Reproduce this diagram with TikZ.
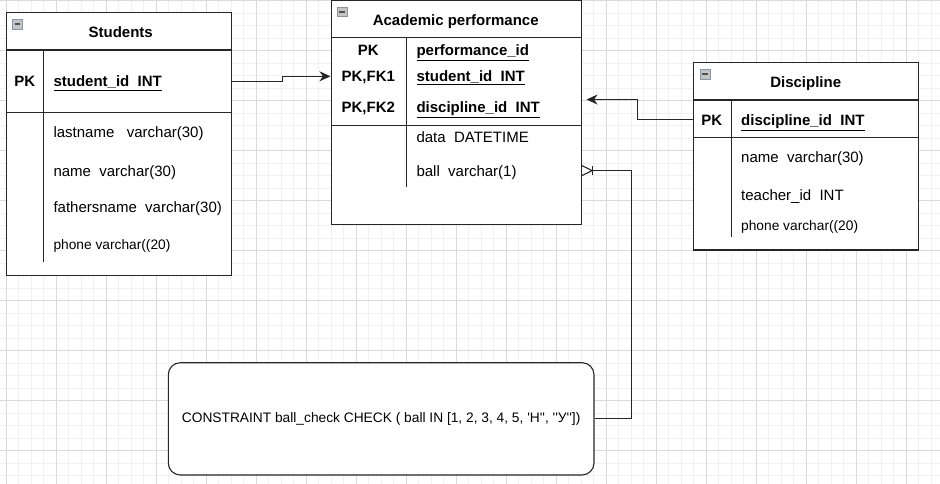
\documentclass[tikz,border=0pt]{standalone}
\usepackage{fontspec}
\setmainfont{Liberation Sans}
\usetikzlibrary{arrows.meta}
\definecolor{gridminor}{HTML}{F1F1F1}
\definecolor{gridmajor}{HTML}{DADADA}
\definecolor{iconfill}{HTML}{C4C4C4}
\definecolor{iconedge}{HTML}{8A94A2}
\definecolor{iconbar}{HTML}{505050}
\newcommand{\sq}{\textquotesingle}
\tikzset{
  tablebox/.style={draw=black!85, line width=1.1pt, inner sep=0pt},
  rowline/.style={draw=black!85, line width=1.1pt},
  titletext/.style={font=\bfseries\fontsize{15}{18}\selectfont, anchor=base, inner sep=0pt},
  keytext/.style={font=\bfseries\fontsize{15}{18}\selectfont, anchor=base, inner sep=0pt},
  keyfield/.style={font=\bfseries\fontsize{15}{18}\selectfont, anchor=base west, inner sep=0pt},
  fieldtext/.style={font=\fontsize{15}{18}\selectfont, anchor=base west, inner sep=0pt},
  smallfield/.style={font=\fontsize{13.75}{16}\selectfont, anchor=base west, inner sep=0pt},
  minusbox/.style={draw=iconedge, fill=iconfill, line width=0.6pt, minimum size=9.5pt, inner sep=0pt,
    path picture={\draw[iconbar, line width=1.8pt] ([xshift=1.8pt]path picture bounding box.west) -- ([xshift=-1.8pt]path picture bounding box.east);}},
  link/.style={draw=black!85, line width=1.1pt},
  fkarrow/.style={link, -{Stealth[length=11pt, width=10pt, inset=3.5pt]}}
}
\begin{document}
\begin{tikzpicture}[x=1pt, y=-1pt]
    % page and grid
    \fill[white] (0,0) rectangle (940,484);
    \useasboundingbox (0,0) rectangle (940,484);
    \begin{scope}[shift={(6.3,0.5)}]
        \draw[gridminor, line width=0.8pt] (-6.3,-0.5) grid[step=12.5pt] (933.7,483.5);
        \draw[gridmajor, line width=0.8pt] (-6.3,-0.5) grid[step=50pt] (933.7,483.5);
    \end{scope}

    % Students
    \node[tablebox, fill=white, minimum width=224.6pt, minimum height=262.6pt] (students) at (119,144) {};
    \draw[rowline] (6.7,50) -- (231.3,50);
    \draw[rowline] (6.7,112.7) -- (231.3,112.7);
    \draw[rowline] (43.7,50) -- (43.7,262.3);
    \node[minusbox] (stu-icon) at (17.5,24.3) {};
    \node[titletext] (stu-title) at (120.7,37.3) {Students};
    \node[keytext] (stu-pk) at (24.7,87) {PK};
    \node[keyfield] (stu-id) at (53.3,87) {\underline{student\_id~~INT}};
    \node[fieldtext] (stu-lastname) at (53.3,137.6) {lastname~~~varchar(30)};
    \node[fieldtext] (stu-name) at (53.3,176) {name~~varchar(30)};
    \node[fieldtext] (stu-fname) at (53.3,212.6) {fathersname~~varchar(30)};
    \node[smallfield] (stu-phone) at (53.3,249.9) {phone varchar((20)};

    % Academic performance
    \node[tablebox, fill=white, minimum width=250pt, minimum height=223.6pt] (perf) at (456.3,112.5) {};
    \draw[rowline] (331.3,37.7) -- (581.3,37.7);
    \draw[rowline] (331.3,125.3) -- (581.3,125.3);
    \draw[rowline] (406.3,37.7) -- (406.3,187.3);
    \node[minusbox] (ap-icon) at (342.3,12) {};
    \node[titletext] (ap-title) at (455.7,25.3) {Academic performance};
    \node[keytext] (ap-pk) at (368.3,56) {PK};
    \node[keytext] (ap-fk1) at (368.3,81.3) {PK,FK1};
    \node[keytext] (ap-fk2) at (368.3,112.6) {PK,FK2};
    \node[keyfield] (ap-id) at (416.3,56) {\underline{performance\_id}};
    \node[keyfield] (ap-stuid) at (416.3,81.3) {\underline{student\_id~~INT}};
    \node[keyfield] (ap-discid) at (416.3,112.6) {\underline{discipline\_id~~INT}};
    \node[fieldtext] (ap-data) at (416.3,142.6) {data~~DATETIME};
    \node[fieldtext] (ap-ball) at (416.3,176) {ball~~varchar(1)};

    % Discipline
    \node[tablebox, fill=white, minimum width=225.4pt, minimum height=187.3pt] (disc) at (806,156.35) {};
    \draw[rowline] (693.3,100) -- (918.7,100);
    \draw[rowline] (693.3,137.7) -- (918.7,137.7);
    \draw[rowline] (731.3,100) -- (731.3,237.3);
    \node[minusbox] (disc-icon) at (705.3,74.3) {};
    \node[titletext] (disc-title) at (805.7,87.6) {Discipline};
    \node[keytext] (disc-pk) at (711.7,125.3) {PK};
    \node[keyfield] (disc-id) at (741,125.3) {\underline{discipline\_id~~INT}};
    \node[fieldtext] (disc-name) at (741,162.6) {name~~varchar(30)};
    \node[fieldtext] (disc-teacher) at (741,200.3) {teacher\_id~~INT};
    \node[smallfield] (disc-phone) at (741,230.6) {phone varchar((20)};

    % constraint
    \node[draw=black!85, line width=1.1pt, fill=white, rounded corners=12pt, minimum width=425.7pt, minimum height=112.3pt,
          font=\fontsize{13.75}{16}\selectfont] (check) at (381.15,418.85)
          {CONSTRAINT ball\_check CHECK ( ball IN [1, 2, 3, 4, 5, \sq Н\sq\sq, \sq\sq У\sq\sq])};

    % links
    \draw[fkarrow] ([yshift=0.7pt]students.east |- stu-pk) -- ++(50.4,0) |- ([xshift=-0.3pt,yshift=1pt]perf.west |- ap-fk1);
    \draw[fkarrow] ([yshift=1pt]disc.west |- disc-pk) -- ++(-55.6,0) |- ([xshift=4.7pt,yshift=9pt]perf.east |- ap-fk2);
    \coordinate (crow) at ([yshift=1.5pt]perf.east |- ap-ball);
    \draw[link] (check.east) -- ++(37,0) |- ([xshift=10.4pt]crow);
    \draw[link] ([yshift=5pt]crow) -- ([xshift=10.4pt]crow) -- ([yshift=-5pt]crow);
    \draw[link] ([xshift=10.4pt,yshift=4.5pt]crow) -- ([xshift=10.4pt,yshift=-4.5pt]crow);
\end{tikzpicture}
\end{document}
